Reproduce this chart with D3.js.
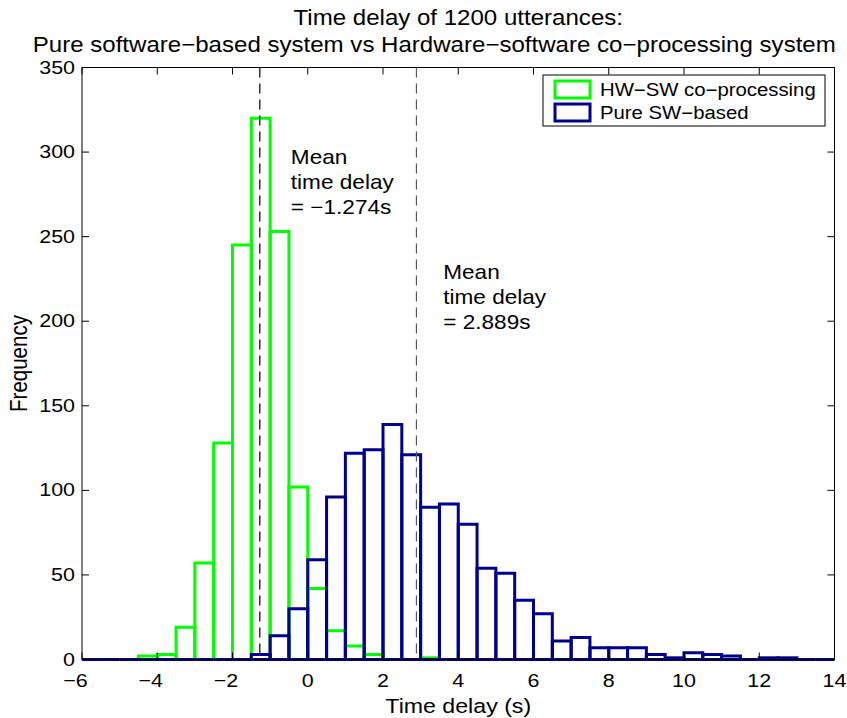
<!DOCTYPE html>
<html>
<head>
<meta charset="utf-8">
<script src="https://cdn.jsdelivr.net/npm/d3@7"></script>
<style>
  body { margin: 0; background: #fff; }
  text { font-family: "Liberation Sans", Arial, sans-serif; fill: #000; }
</style>
</head>
<body>
<div id="container"></div>
<script>
/* DATA — histogram counts, 0.5 s bins from -6 to 14 */
const binStarts = [-6, -5.5, -5, -4.5, -4, -3.5, -3, -2.5, -2, -1.5,
                   -1, -0.5, 0, 0.5, 1, 1.5, 2, 2.5, 3, 3.5,
                   4, 4.5, 5, 5.5, 6, 6.5, 7, 7.5, 8, 8.5,
                   9, 9.5, 10, 10.5, 11, 11.5, 12, 12.5, 13, 13.5];
const binWidth = 0.5;

const hwswCounts = [0, 0, 0, 2, 3, 19, 57, 128, 245, 320,
                    253, 102, 42, 17, 8, 3, 0, 0, 1, 0,
                    0, 0, 0, 0, 0, 0, 0, 0, 0, 0,
                    0, 0, 0, 0, 0, 0, 0, 0, 0, 0];

const swCounts = [0, 0, 0, 0, 0, 0, 0, 0, 0, 3,
                  14, 30, 59, 96, 122, 124, 139, 121, 90, 92,
                  80, 54, 51, 35, 27, 11, 13, 7, 7, 7,
                  3, 1, 4, 3, 2, 0, 1, 1, 0, 0];

const seriesNames = ["HW\u2212SW co\u2212processing", "Pure SW\u2212based"];
const seriesColors = ["#00ff00", "#000090"];

const meanValues = [-1.274, 2.889];
const meanLabels = [["Mean", "time delay", "= \u22121.274s"],
                    ["Mean", "time delay", "= 2.889s"]];
const meanLabelPos = [[-0.45, 293], [3.6, 225]]; /* data units, first baseline */

const xTicks = [-6, -4, -2, 0, 2, 4, 6, 8, 10, 12, 14];
const yTicks = [0, 50, 100, 150, 200, 250, 300, 350];

const titleLines = ["Time delay of 1200 utterances:",
                    "Pure software\u2212based system vs Hardware\u2212software co\u2212processing system"];

/* CONSTANTS */
const width = 847, height = 718;
const margin = { top: 67.5, right: 12.5, bottom: 58.5, left: 82 };
const SX = 1.13;      /* picture is a bit wider than the glyphs */
const tickLen = 7;

const svg = d3.select("#container").append("svg")
  .attr("width", width).attr("height", height);

/* SCALES */
const xScale = d3.scaleLinear().domain([-6, 14]).range([margin.left, width - margin.right]);
const yScale = d3.scaleLinear().domain([0, 350]).range([height - margin.bottom, margin.top]);

const x0 = xScale.range()[0], x1 = xScale.range()[1];
const yB = yScale.range()[0], yT = yScale.range()[1];

/* text helper, stretched a little sideways like the original */
function label(g, x, y, str, size, anchor, extra) {
  return g.append("text")
    .attr("transform", `translate(${x},${y}) scale(${SX},1)` + (extra || ""))
    .attr("text-anchor", anchor || "start")
    .style("font-size", size + "px")
    .text(str);
}

/* BARS — outline only, green first then blue */
const barPath = (start, count) => {
  const a = xScale(start), b = xScale(start + binWidth);
  const y0 = yScale(0), y1 = yScale(count);
  return `M${a},${y0}V${y1}H${b}V${y0}Z`;
};

[hwswCounts, swCounts].forEach((counts, i) => {
  svg.append("g").selectAll("path")
    .data(binStarts)
    .join("path")
    .attr("d", (d, j) => barPath(d, counts[j]))
    .attr("fill", "none")
    .attr("stroke", seriesColors[i])
    .attr("stroke-width", 3)
    .attr("stroke-linejoin", "miter");
});

/* MEAN LINES */
svg.append("g").selectAll("line")
  .data(meanValues)
  .join("line")
  .attr("x1", d => xScale(d)).attr("x2", d => xScale(d))
  .attr("y1", yT).attr("y2", yB)
  .attr("stroke", (d, i) => i === 0 ? "#000" : "#555")
  .attr("stroke-width", 1.2)
  .attr("stroke-dasharray", "10,6");

/* MEAN ANNOTATIONS */
meanLabels.forEach((lines, i) => {
  const px = xScale(meanLabelPos[i][0]);
  const py = yScale(meanLabelPos[i][1]);
  lines.forEach((s, k) => label(svg, px, py + k * 25, s, 20));
});

/* FRAME + TICKS (box on, ticks inside on all sides) */
const axes = svg.append("g");
axes.append("rect")
  .attr("x", x0).attr("y", yT)
  .attr("width", x1 - x0).attr("height", yB - yT)
  .attr("fill", "none").attr("stroke", "#000").attr("stroke-width", 1);

xTicks.forEach(t => {
  const x = xScale(t);
  axes.append("line").attr("x1", x).attr("x2", x).attr("y1", yB).attr("y2", yB - tickLen)
    .attr("stroke", "#000");
  axes.append("line").attr("x1", x).attr("x2", x).attr("y1", yT).attr("y2", yT + tickLen)
    .attr("stroke", "#000");
  const s = (t < 0 ? "\u2212" : "") + Math.abs(t);
  label(axes, x, yB + 27, s, 19, "middle")
    .attr("dx", t < 0 ? "-0.3em" : 0);
});

yTicks.forEach(t => {
  const y = yScale(t);
  axes.append("line").attr("x1", x0).attr("x2", x0 + tickLen).attr("y1", y).attr("y2", y)
    .attr("stroke", "#000");
  axes.append("line").attr("x1", x1).attr("x2", x1 - tickLen).attr("y1", y).attr("y2", y)
    .attr("stroke", "#000");
  label(axes, x0 - 7, y + 6, String(t), 19, "end");
});

/* AXIS LABELS */
label(svg, (x0 + x1) / 2, 713, "Time delay (s)", 20.5, "middle");
label(svg, 27, (yT + yB) / 2, "Frequency", 20.5, "middle", " rotate(-90)");

/* TITLE */
label(svg, (x0 + x1) / 2, 25, titleLines[0], 21.3, "middle");
label(svg, (x0 + x1) / 2 - 24, 52, titleLines[1], 21.3, "middle");

/* LEGEND */
const leg = svg.append("g");
leg.append("rect")
  .attr("x", 543).attr("y", 75).attr("width", 282).attr("height", 51)
  .attr("fill", "#fff").attr("stroke", "#000").attr("stroke-width", 1);
seriesNames.forEach((name, i) => {
  const ty = 81 + i * 23;
  leg.append("rect")
    .attr("x", 555).attr("y", ty).attr("width", 35).attr("height", 17)
    .attr("fill", "none").attr("stroke", seriesColors[i]).attr("stroke-width", 3);
  label(leg, 600, ty + 15, name, 18);
});
</script>
</body>
</html>
